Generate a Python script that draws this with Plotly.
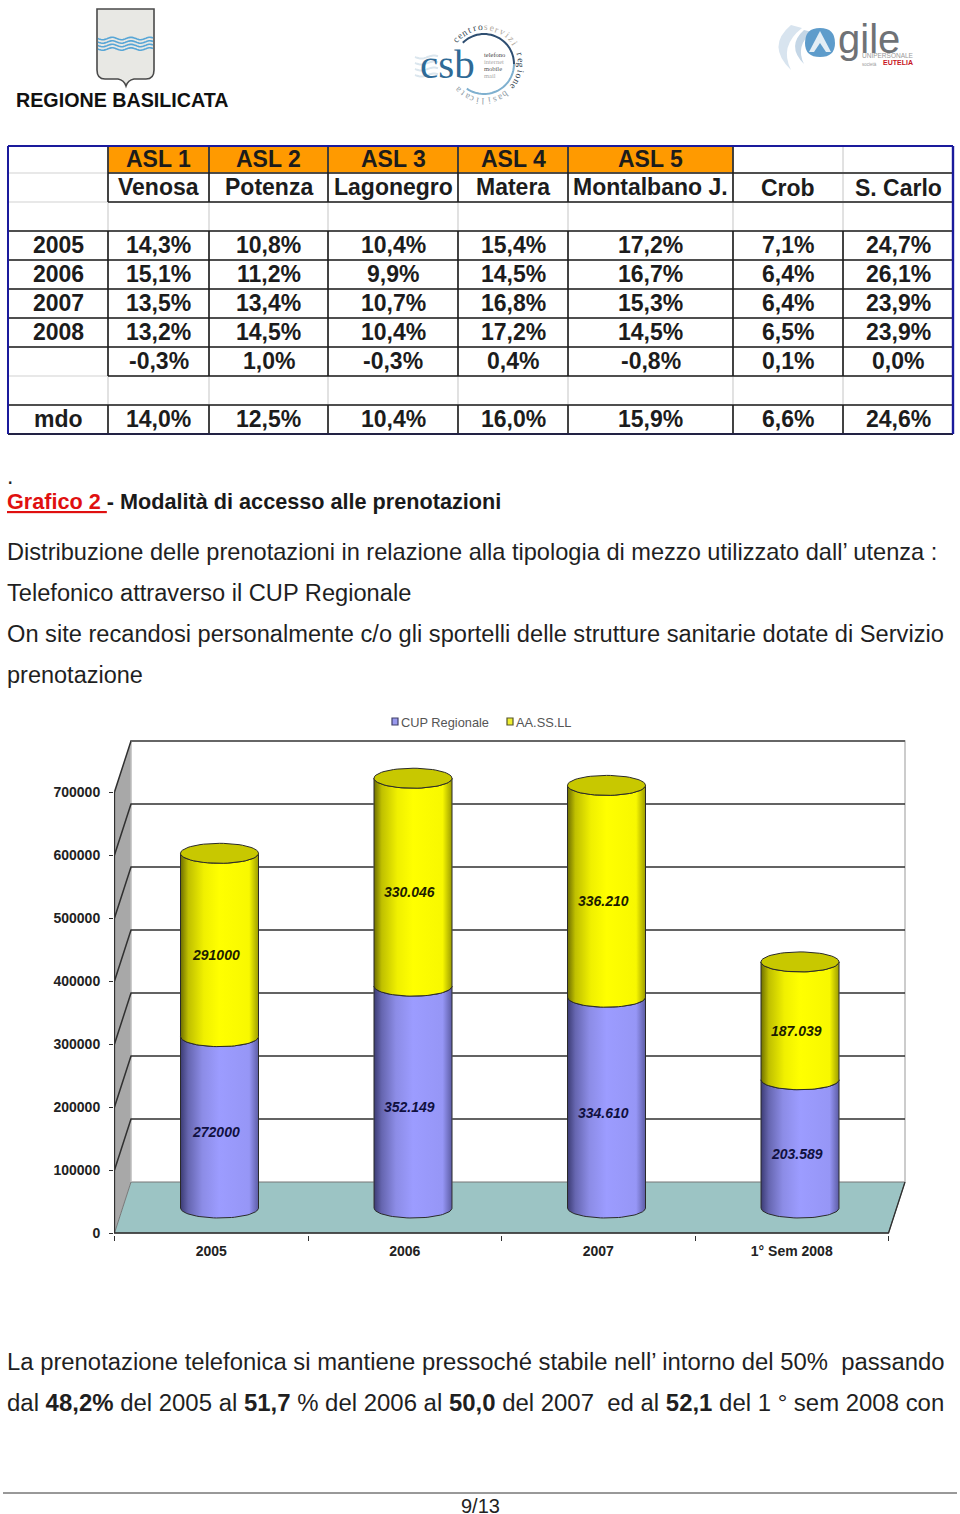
import math

import plotly.graph_objects as go

W, H = 960, 1514

# chart values
CATEGORIES = ["2005", "2006", "2007", "1° Sem 2008"]
CUP_REGIONALE = [272000, 352149, 334610, 203589]
AA_SS_LL = [291000, 330046, 336210, 187039]
CUP_LABELS = ["272000", "352.149", "334.610", "203.589"]
AA_LABELS = ["291000", "330.046", "336.210", "187.039"]
Y_TICKS = [0, 100000, 200000, 300000, 400000, 500000, 600000, 700000]

# table values
ASL_ROW = ["", "ASL 1", "ASL 2", "ASL 3", "ASL 4", "ASL 5", "", ""]
NAME_ROW = ["", "Venosa", "Potenza", "Lagonegro", "Matera", "Montalbano J.", "Crob", "S. Carlo"]
ROW_2005 = ["2005", "14,3%", "10,8%", "10,4%", "15,4%", "17,2%", "7,1%", "24,7%"]
ROW_2006 = ["2006", "15,1%", "11,2%", "9,9%", "14,5%", "16,7%", "6,4%", "26,1%"]
ROW_2007 = ["2007", "13,5%", "13,4%", "10,7%", "16,8%", "15,3%", "6,4%", "23,9%"]
ROW_2008 = ["2008", "13,2%", "14,5%", "10,4%", "17,2%", "14,5%", "6,5%", "23,9%"]
ROW_DELTA = ["", "-0,3%", "1,0%", "-0,3%", "0,4%", "-0,8%", "0,1%", "0,0%"]
ROW_MDO = ["mdo", "14,0%", "12,5%", "10,4%", "16,0%", "15,9%", "6,6%", "24,6%"]
TABLE_ROWS = [ASL_ROW, NAME_ROW, [""] * 8, ROW_2005, ROW_2006, ROW_2007, ROW_2008, ROW_DELTA, [""] * 8, ROW_MDO]

COL_X = [8, 108, 209, 328, 458, 568, 733, 843, 953]
ROW_Y = [146, 173, 202, 231, 260, 289, 318, 347, 376, 405, 434]

FONT = "Liberation Sans"
SERIF = "Liberation Serif"

# chart geometry, pixels on the page
X0_PX, Y0_PX = 114.5, 1233
PX_PER_CAT = 193.5
PX_PER_UNIT = 63 / 100000
DEPTH_X = 16.5 / PX_PER_CAT
DEPTH_Y = 51 / PX_PER_UNIT
BAR_SHIFT = 8.25 / PX_PER_CAT
BAR_BASE = 25 / PX_PER_UNIT
RX = 39 / PX_PER_CAT
RY = 10 / PX_PER_UNIT

shapes = []
annotations = []


def px(x):
    return x / W


def py(y):
    return 1 - y / H


def page_path(spec):
    # "M 10 20 L 30 40" in page pixels -> paper fractions
    out, is_x = [], True
    for tok in spec.split():
        if tok.isalpha():
            out.append(tok)
        else:
            out.append(f"{px(float(tok)):.5f}" if is_x else f"{py(float(tok)):.5f}")
            is_x = not is_x
    return " ".join(out)


def page_shape(spec, fill=None, color=None, width=1):
    shapes.append(dict(type="path", xref="paper", yref="paper", path=page_path(spec),
                       fillcolor=fill or "rgba(0,0,0,0)",
                       line=dict(color=color or "rgba(0,0,0,0)", width=width if color else 0),
                       layer="above"))


def page_line(x0, y0, x1, y1, color, width=1):
    page_shape(f"M {x0} {y0} L {x1} {y1}", color=color, width=width)


def page_text(text, x, y, size, color="#111111", bold=False, anchor="left", family=FONT, angle=0):
    annotations.append(dict(text=f"<b>{text}</b>" if bold else text, x=px(x), y=py(y), xref="paper", yref="paper",
                            xanchor=anchor, yanchor="middle", showarrow=False, textangle=angle,
                            font=dict(family=family, size=size, color=color)))


def chart_shape(path, fill=None, color=None, width=1):
    shapes.append(dict(type="path", xref="x", yref="y", path=path, layer="below",
                       fillcolor=fill or "rgba(0,0,0,0)",
                       line=dict(color=color or "rgba(0,0,0,0)", width=width if color else 0)))


# ---- logos ----
def draw_logos():
    # shield
    page_shape("M 97 9 L 154 9 L 154 70 Q 154 79 146 79 L 134 79 Q 128 80 126 86 Q 124 80 118 79 "
               "L 105 79 Q 97 79 97 70 Z", fill="#e8e8e4", color="#4a4a4a", width=1.6)
    for k in range(4):
        y = 38.5 + k * 3.5
        pts = [(98 + i, y + 1.2 * math.sin(i / 3.0)) for i in range(56)]
        page_shape("M " + " L ".join(f"{a:.1f} {b:.1f}" for a, b in pts), color="#58a6d6", width=1.6)
    page_text("REGIONE BASILICATA", 123, 100, 19.7, color="#111111", bold=True, anchor="center")

    # csb
    for k in range(4):
        y = 57 + k * 6
        pts = [(415 + i, y + 1.5 * math.sin(i / 4.0)) for i in range(24)]
        page_shape("M " + " L ".join(f"{a:.1f} {b:.1f}" for a, b in pts), color="#dbe6ee", width=2)
    cx, cy, r = 484, 64, 30
    def arc(a0, a1):
        pts = []
        for i in range(31):
            t = math.radians(a0 + (a1 - a0) * i / 30)
            pts.append((cx + r * math.sin(t), cy - r * math.cos(t)))
        return "M " + " L ".join(f"{a:.1f} {b:.1f}" for a, b in pts)
    page_shape(arc(-45, 90), color="#2f4f72", width=2)
    page_shape(arc(90, 215), color="#7fb0cf", width=2)
    page_text("csb", 447, 64, 41, color="#2f6a96", anchor="center", family=SERIF)
    for label, y, col in [("telefono", 54, "#444444"), ("internet", 61, "#aaaaaa"),
                          ("mobile", 68, "#555555"), ("mail", 75, "#aaaaaa")]:
        page_text(label, 482, y, 6.5, color=col, family=SERIF)
    ring = "centroservizi regione basilicata"
    for i, ch in enumerate(ring):
        if ch == " ":
            continue
        a = -50 + i * 8.9
        t = math.radians(a)
        if i < 6 or 14 <= i < 21:
            col = "#33434f"
        elif i < 13:
            col = "#b0a89c"
        else:
            col = "#8e9aa4"
        page_text(ch, cx + 37 * math.sin(t), cy - 37 * math.cos(t), 9.5, color=col, anchor="center",
                  family=SERIF, angle=a)

    # agile
    page_shape("M 791 25 Q 766 46 791 70 Q 779 46 802 28 Z", fill="#d8e4ef")
    page_shape("M 804 30 Q 786 46 804 64 Q 795 46 812 32 Z", fill="#c4d6e6")
    page_shape("M 805 43 Q 805 28 820 28 Q 835 28 835 43 Q 835 57 820 57 Q 805 57 805 43 Z", fill="#5e9ccb")
    page_shape("M 820 31 L 831 52 L 809 52 Z", fill="#e4eef5")
    page_shape("M 820 43 L 826 52 L 814 52 Z", fill="#5e9ccb")
    page_text("gile", 836, 39, 40, color="#6f7276")
    page_text("UNIPERSONALE", 860, 56, 6.5, color="#9a9a9a")
    page_text("EUTELIA", 881, 63, 7, color="#c8141e", bold=True)
    page_text("società", 860, 64, 4.5, color="#9a9a9a")


# ---- table ----
def draw_table():
    for i in range(1, 6):
        page_shape(f"M {COL_X[i]} {ROW_Y[0]} L {COL_X[i + 1]} {ROW_Y[0]} L {COL_X[i + 1]} {ROW_Y[1]} "
                   f"L {COL_X[i]} {ROW_Y[1]} Z", fill="#ff9a00")
    # faint spreadsheet grid
    for x in COL_X[1:-1]:
        page_line(x, ROW_Y[0], x, ROW_Y[-1], "#d8d8d8", 1.5)
    for y in ROW_Y[1:-1]:
        page_line(COL_X[0], y, COL_X[-1], y, "#e0e0e0", 1.5)
    dark = "#1c1c1c"
    # dark cell borders
    for x in COL_X[1:7]:
        page_line(x, ROW_Y[0], x, ROW_Y[2], dark, 1.6)
    page_line(COL_X[1], ROW_Y[1], COL_X[-1], ROW_Y[1], dark, 1.6)
    page_line(COL_X[1], ROW_Y[2], COL_X[-1], ROW_Y[2], dark, 1.6)
    for y in ROW_Y[3:7]:
        page_line(COL_X[0], y, COL_X[-1], y, dark, 1.6)
    page_line(COL_X[0], ROW_Y[7], COL_X[-1], ROW_Y[7], dark, 1.6)
    page_line(COL_X[1], ROW_Y[8], COL_X[-1], ROW_Y[8], dark, 1.6)
    for x in COL_X[1:8]:
        page_line(x, ROW_Y[3], x, ROW_Y[8], dark, 1.6)
        page_line(x, ROW_Y[9], x, ROW_Y[10], dark, 1.6)
    page_line(COL_X[0], ROW_Y[9], COL_X[-1], ROW_Y[9], dark, 1.6)
    page_line(COL_X[0], ROW_Y[10], COL_X[-1], ROW_Y[10], "#222244", 2)
    # blue frame
    page_line(COL_X[0], ROW_Y[0], COL_X[-1], ROW_Y[0], "#1a1a9c", 2)
    page_line(COL_X[0], ROW_Y[0], COL_X[0], ROW_Y[-1], "#1a1a9c", 2)
    page_line(COL_X[-1], ROW_Y[0], COL_X[-1], ROW_Y[-1], "#1a1a9c", 2.4)

    for r, row in enumerate(TABLE_ROWS):
        yc = (ROW_Y[r] + ROW_Y[r + 1]) / 2 - 0.7
        for c, val in enumerate(row):
            if val:
                xc = (COL_X[c] + COL_X[c + 1]) / 2
                dy = 1.5 if row is NAME_ROW and c >= 6 else 0
                page_text(val, xc, yc + dy, 23, color="#1c1c1c", bold=True, anchor="center")


# ---- text ----
def draw_text():
    page_text(".", 4.5, 476, 23, color="#222222")
    page_text('<span style="color:#e01010"><u><b>Grafico 2 </b></u></span><b>- Modalità di accesso alle prenotazioni</b>',
              4.5, 501, 21.65, color="#1a1a1a")
    body = [
        ("Distribuzione delle prenotazioni in relazione alla tipologia di mezzo utilizzato dall’ utenza :", 552, 23.6),
        ("Telefonico attraverso il CUP Regionale", 593, 23.65),
        ("On site recandosi personalmente c/o gli sportelli delle strutture sanitarie dotate di Servizio", 634, 23.65),
        ("prenotazione", 675, 23.5),
        ("La prenotazione telefonica si mantiene pressoché stabile nell’ intorno del 50%&nbsp; passando", 1361, 23.85),
        ("dal <b>48,2%</b> del 2005 al <b>51,7</b> % del 2006 al <b>50,0</b> del 2007&nbsp; ed al <b>52,1</b> del 1 ° sem 2008 con", 1402, 23.95),
    ]
    for line, y, size in body:
        page_text(line, 4.5, y, size, color="#1f1f1f")
    page_line(3, 1493, 957, 1493, "#333333", 1)
    page_text("9/13", 480, 1506, 20, color="#222222", anchor="center")

    # legend of the chart
    page_shape("M 392 718 L 398 718 L 398 725 L 392 725 Z", fill="#9999ee", color="#40406a", width=1.2)
    page_text("CUP Regionale", 399, 722, 12.8, color="#555555")
    page_shape("M 507 718 L 513 718 L 513 725 L 507 725 Z", fill="#eeee30", color="#55552a", width=1.2)
    page_text("AA.SS.LL", 514, 722, 12.8, color="#555555")


def ellipse_arc(cx, cy, a0, a1, n=40):
    # angle 180..360 is the front (lower) half of the ellipse
    xs, ys = [], []
    for i in range(n + 1):
        t = math.radians(a0 + (a1 - a0) * i / n)
        xs.append(cx + RX * math.cos(t))
        ys.append(cy + RY * math.sin(t))
    return xs, ys


def cylinder_part(i, bottom, top, scale, name):
    cx = i + BAR_SHIFT
    bx, by = ellipse_arc(cx, bottom, 180, 360)
    tx, ty = ellipse_arc(cx, top, 360, 180)
    return go.Scatter(x=bx + tx + [bx[0]], y=by + ty + [by[0]], mode="lines", fill="toself", name=name,
                      fillgradient=dict(type="horizontal", colorscale=scale),
                      line=dict(color="#2a2a2a", width=1), hoverinfo="skip", showlegend=False)


PURPLE_SCALE = [[0, "#3c3c74"], [0.1, "#6666b0"], [0.28, "#8c8ce6"], [0.5, "#9c9cff"], [0.88, "#9696f6"], [1, "#5c5ca4"]]
YELLOW_SCALE = [[0, "#6e6e00"], [0.1, "#c0c000"], [0.3, "#f0f000"], [0.5, "#ffff00"], [0.88, "#f8f800"], [1, "#9c9c00"]]

draw_logos()
draw_table()
draw_text()

# back wall, side wall and floor
x_back = -0.5 + DEPTH_X
x_back_end = 3.5 + DEPTH_X
chart_shape(f"M -0.5 0 L {x_back} {DEPTH_Y} L {x_back} {700000 + DEPTH_Y} L -0.5 700000 Z", fill="#a8a8a8")
chart_shape(f"M -0.5 0 L {x_back} {DEPTH_Y} L {x_back_end} {DEPTH_Y} L 3.5 0 Z", fill="#9cc4c4", color="#777777", width=1)
chart_shape(f"M {x_back} {DEPTH_Y} L {x_back} {700000 + DEPTH_Y} L {x_back_end} {700000 + DEPTH_Y} L {x_back_end} {DEPTH_Y}",
            color="#bcbcbc", width=1.5)
for v in Y_TICKS:
    if v > 0:
        chart_shape(f"M -0.5 {v} L {x_back} {v + DEPTH_Y} L {x_back_end} {v + DEPTH_Y}", color="#303030", width=1.5)
chart_shape(f"M {x_back} {700000 + DEPTH_Y} L {x_back_end} {700000 + DEPTH_Y}", color="#666666", width=2)
chart_shape(f"M -0.5 700000 L -0.5 0 L 3.5 0 L {x_back_end} {DEPTH_Y}", color="#303030", width=1.3)

fig = go.Figure()
cup_base = [BAR_BASE] * len(CATEGORIES)
aa_base = [BAR_BASE + c for c in CUP_REGIONALE]
xs = [i + BAR_SHIFT for i in range(len(CATEGORIES))]
fig.add_trace(go.Bar(x=xs, y=CUP_REGIONALE, base=cup_base, width=2 * RX, name="CUP Regionale",
                     marker=dict(color="#9999ff"), showlegend=False))
fig.add_trace(go.Bar(x=xs, y=AA_SS_LL, base=aa_base, width=2 * RX, name="AA.SS.LL",
                     marker=dict(color="#ffff00"), showlegend=False))

for i in range(len(CATEGORIES)):
    top_cup = BAR_BASE + CUP_REGIONALE[i]
    top_aa = top_cup + AA_SS_LL[i]
    fig.add_trace(cylinder_part(i, BAR_BASE, top_cup, PURPLE_SCALE, "CUP Regionale"))
    fig.add_trace(cylinder_part(i, top_cup, top_aa, YELLOW_SCALE, "AA.SS.LL"))
    cx_a, cy_a = ellipse_arc(xs[i], top_aa, 0, 360, n=60)
    fig.add_trace(go.Scatter(x=cx_a, y=cy_a, mode="lines", fill="toself", fillcolor="#c8c800",
                             line=dict(color="#2a2a2a", width=1), hoverinfo="skip", showlegend=False))
    for label, y_mid, col in [(CUP_LABELS[i], BAR_BASE + CUP_REGIONALE[i] / 2, "#101040"),
                              (AA_LABELS[i], top_cup + AA_SS_LL[i] / 2, "#1c1c00")]:
        annotations.append(dict(text=f"<b><i>{label}</i></b>", x=xs[i], y=y_mid, xref="x", yref="y", showarrow=False,
                                xshift=-3.5, yshift=-10, font=dict(family=FONT, size=14, color=col)))

x_dom0, x_dom1 = 114, 908
y_dom_bottom, y_dom_top = 1235, 739
fig.update_layout(
    width=W, height=H, margin=dict(l=0, r=0, t=0, b=0, autoexpand=False), paper_bgcolor="white", plot_bgcolor="white",
    barmode="overlay", showlegend=False, shapes=shapes, annotations=annotations,
    xaxis=dict(domain=[px(x_dom0), px(x_dom1)], showgrid=False, zeroline=False, showline=False,
               range=[-0.5 + (x_dom0 - X0_PX) / PX_PER_CAT, -0.5 + (x_dom1 - X0_PX) / PX_PER_CAT],
               tickmode="array", tickvals=list(range(len(CATEGORIES))), ticktext=[f"<b>{c}</b>" for c in CATEGORIES],
               ticks="", ticklabelstandoff=6,
               tickfont=dict(family=FONT, size=14, color="#222222"),
               minor=dict(tickmode="array", tickvals=[-0.5, 0.5, 1.5, 2.5, 3.5], ticks="outside", ticklen=5,
                          tickcolor="#303030", tickwidth=1)),
    yaxis=dict(domain=[py(y_dom_bottom), py(y_dom_top)], showgrid=False, zeroline=False, showline=False,
               range=[(Y0_PX - y_dom_bottom) / PX_PER_UNIT, (Y0_PX - y_dom_top) / PX_PER_UNIT],
               tickmode="array", tickvals=Y_TICKS, ticktext=[f"<b>{v}</b>" for v in Y_TICKS],
               ticks="outside", ticklen=4, tickcolor="#303030", ticklabelstandoff=6,
               tickfont=dict(family=FONT, size=14, color="#222222")),
    font=dict(family=FONT),
)

# the page's default 8px body margin would push the sheet off the window
fig.write_html("out.html", config={"displayModeBar": False}, post_script="document.body.style.margin='0';")
